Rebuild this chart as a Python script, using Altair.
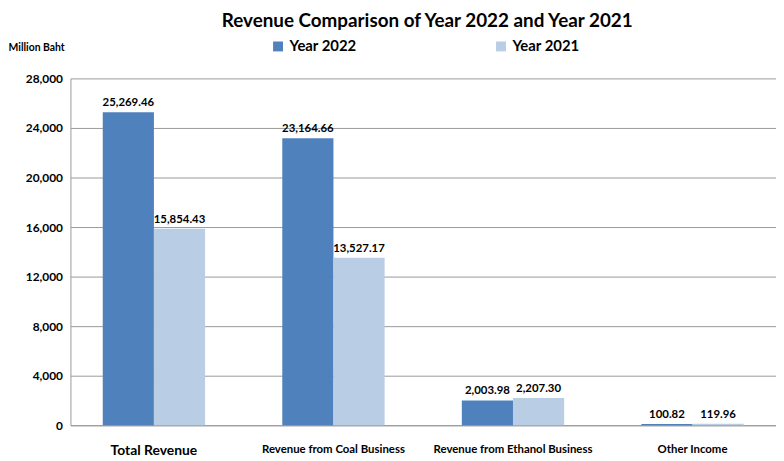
import altair as alt
import pandas as pd

categories = ["Total Revenue", "Revenue from Coal Business", "Revenue from Ethanol Business", "Other Income"]
years = ["Year 2022", "Year 2021"]
values_2022 = [25269.46, 23164.66, 2003.98, 100.82]
values_2021 = [15854.43, 13527.17, 2207.30, 119.96]
y_ticks = [0, 4000, 8000, 12000, 16000, 20000, 24000, 28000]
colors = ["#4F81BD", "#B9CDE5"]

FONT = "Lato"

rows = []
for c, v in zip(categories, values_2022):
    rows.append({"category": c, "year": years[0], "value": v})
for c, v in zip(categories, values_2021):
    rows.append({"category": c, "year": years[1], "value": v})
df = pd.DataFrame(rows)

x = alt.X("category:N", sort=categories, title=None,
          scale=alt.Scale(paddingInner=0.43, paddingOuter=0.18),
          axis=alt.Axis(labelAngle=0, labelFont=FONT, labelFontWeight="bold",
                        labelFontSize=alt.expr("datum.value == 'Total Revenue' ? 14 : 11.5"),
                        labelColor="black", labelPadding=19, ticks=False,
                        domainColor="#999999", labelLimit=300))
xo = alt.XOffset("year:N", sort=years)

base = alt.Chart(df).encode(x=x, xOffset=xo)

bars = base.mark_bar().encode(
    y=alt.Y("value:Q", scale=alt.Scale(domain=[0, 28000]),
            axis=alt.Axis(values=y_ticks, format=",d", title="Million Baht",
                          titleAngle=0, titleAlign="left", titleBaseline="middle",
                          titleX=-63, titleY=-31, titleFont=FONT, titleFontSize=10.5,
                          titleFontWeight="bold", labelFont=FONT, labelFontSize=12,
                          labelFontWeight="bold", labelColor="black", ticks=False,
                          labelPadding=8, gridColor="#999999", gridWidth=1,
                          domainColor="#999999")),
    color=alt.Color("year:N", sort=years, scale=alt.Scale(domain=years, range=colors),
                    legend=alt.Legend(title=None, orient="none", legendX=202, legendY=-40,
                                      direction="horizontal", symbolType="square",
                                      symbolSize=100, symbolStrokeWidth=0,
                                      labelFont=FONT, labelFontSize=15,
                                      labelFontWeight="bold", labelColor="black",
                                      columnPadding=138, labelOffset=4)),
)

labels = base.mark_text(dy=-4, baseline="bottom", font=FONT, fontSize=11.5,
                        fontWeight="bold", color="black").encode(
    y="value:Q",
    text=alt.Text("value:Q", format=",.2f"),
)

chart = (bars + labels).properties(
    width=712, height=350,
    title=alt.Title("Revenue Comparison of Year 2022 and Year 2021", font=FONT,
                    fontSize=19, fontWeight="bold", color="black", anchor="middle",
                    offset=8, dx=4),
    autosize=alt.AutoSizeParams(type="none"),
    padding={"left": 63, "top": 69, "right": 0, "bottom": 30},
).configure_view(stroke=None)

chart.save("out.html", embed_options={"renderer": "svg", "actions": False})
